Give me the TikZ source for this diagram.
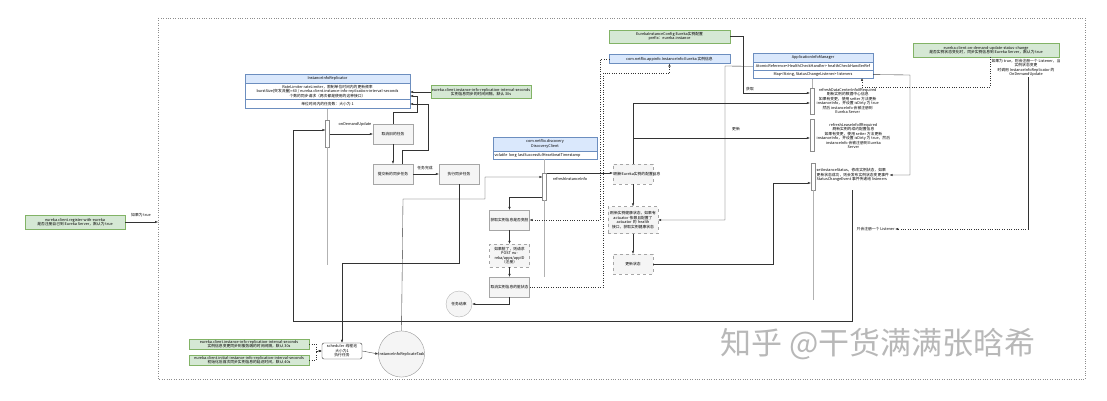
\documentclass[tikz,border=0pt]{standalone}
\usepackage{fontspec}
\setmainfont{Noto Sans CJK SC}
\usepackage{xcolor}
\usetikzlibrary{arrows.meta,positioning}
\definecolor{cfblue}{HTML}{DAE8FC}
\definecolor{cfblueline}{HTML}{6C8EBF}
\definecolor{cfgreen}{HTML}{D5E8D4}
\definecolor{cfgreenline}{HTML}{82B366}
\definecolor{cfgray}{HTML}{F5F5F5}
\definecolor{cfline}{HTML}{333333}
\tikzset{
  cftext/.style={font=\fontsize{3.8}{4.5}\selectfont, inner sep=0.5pt, align=center},
  cfnote/.style={cftext, draw=cfgreenline, fill=cfgreen, line width=0.3pt},
  cfhead/.style={cftext, draw=cfblueline, fill=cfblue, line width=0.3pt},
  cfrow/.style={cftext, draw=cfblueline, fill=white, line width=0.3pt},
  cfbox/.style={cftext, draw=black!35, fill=cfgray, line width=0.3pt,
    minimum width=40pt, minimum height=20pt, text width=38pt},
  cfdbox/.style={cfbox, dashed},
  cfbar/.style={draw=black!45, fill=white, line width=0.3pt, minimum width=4pt, inner sep=0pt},
  cfarrow/.style={-{Latex[length=3pt,width=2.4pt]}, line width=0.35pt, draw=cfline},
  cfdot/.style={cfarrow, dotted},
  cfplain/.style={line width=0.35pt, draw=cfline},
  cflife/.style={line width=0.3pt, draw=black!30}
}

\begin{document}
\begin{tikzpicture}[x=1pt,y=-1pt]
  \useasboundingbox (0,0) rectangle (1107,401);
  \draw[black!45, dotted, line width=0.4pt] (158,18) rectangle (1085,379);

  % left note
  \node[cfnote, minimum width=100pt, minimum height=14pt] (gReg) at (75,222) {eureka.client.register-with-eureka\\是否注册自己到 Eureka Server，默认为 true};
  \node[cftext] (lTrue) at (141,215) {如果为 true};
  \coordinate (cReg) at (158,222);
  \draw[cfarrow] (gReg.east) -- (cReg);

  % InstanceInfoReplicator
  \node[cfhead, minimum width=165pt, minimum height=9pt] (rH) at (327.5,78.5) {InstanceInfoReplicator};
  \node[cfrow, minimum width=165pt, minimum height=16pt, below=0pt of rH] (rB) {RateLimiter rateLimiter，限制单位时间内的更新频率\\burstSize(突发流量)=60 / eureka.client.instance-info-replication-interval-seconds\\个数的同步请求（两次都是使用的这种接口）};
  \node[cfrow, minimum width=165pt, minimum height=9pt, below=0pt of rB] (rR) {单位时间内的任务数：大小为 1};
  \node[cfnote, minimum width=98pt, minimum height=13pt] (gRate) at (481,92) {eureka.client.instance-info-replication-interval-seconds\\实例信息同步的时间间隔，默认 30s};
  \draw[cfarrow] (gRate.west) -- (gRate.west -| rB.east);

  \node[cfbar, minimum height=27pt] (bA) at (327.5,133.5) {};
  \draw[cflife] (rR.south -| bA) -- (bA.north);
  \draw[cflife] (bA.south) -- (327.5,265);
  \node[cfbox] (bCancel) at (393,134) {取消旧的任务};
  \node[cfbox] (bSubmit) at (393,174) {提交新的同步任务};
  \node[cfbox] (bTask) at (459,174) {执行同步任务};
  \node[cftext] (lDemand) at (355,124) {onDemandUpdate};
  \node[cftext] (lDone) at (425,168) {任务完成};
  \draw[cfarrow] (bA.east |- bCancel) -- (bCancel);
  \draw[cfarrow] (bCancel) -- (bSubmit);
  \draw[cfarrow] (bSubmit) -- (bTask);
  \draw[cfarrow] (bCancel.north) -- (393,112) -- (417,112) -- (417,96) -- (rB.east |- 0,96);
  \draw[cfarrow] (bSubmit.north -| 402,0) -- (402,150) -- (428,150) -- (428,104) -- (rB.east |- 0,104);

  % scheduler
  \node[cftext, draw=cfline, rounded corners=2pt, fill=white, minimum width=40pt, minimum height=16pt, text width=36pt] (sch) at (342,351) {scheduler 线程池\\大小为1\\执行任务};
  \node[cfnote, minimum width=120pt, minimum height=10pt] (gInt) at (249,344) {eureka.client.instance-info-replication-interval-seconds\\实例信息变更同步到服务端的时间间隔，默认 30s};
  \node[cfnote, minimum width=120pt, minimum height=10pt] (gInit) at (249,360) {eureka.client.initial-instance-info-replication-interval-seconds\\初始化后首次同步实例信息的延迟时间，默认 40s};
  \draw[cfdot] (gInt.east) -- (316,344) |- (sch.west);
  \draw[cfdot] (gInit.east) -- (316,360) |- (sch.west);
  \node[cftext, draw=black!40, fill=cfgray, circle, minimum size=45pt, inner sep=0pt] (cTask) at (401.5,354) {InstanceInfoReplicateTask};
  \draw[cfarrow] (sch.east) -- (cTask.west);
  \draw[cfarrow] (bTask.south) -- (459,263) -| (sch.north);

  % DiscoveryClient
  \node[cfhead, minimum width=104pt, minimum height=14pt] (dH) at (545,144) {com.netflix.discovery\\DiscoveryClient};
  \node[cfrow, minimum width=104pt, minimum height=8pt, below=0pt of dH, align=left, text width=101pt] (dR) {volatile long lastSuccessfulHeartbeatTimestamp};
  \node[cfbar, minimum height=27pt] (bB) at (544.5,186.5) {};
  \draw[cflife] (dR.south -| bB) -- (bB.north);
  \draw[cflife] (bB.south) -- (544.5,277);
  \draw[cfarrow] (cTask.north) -- (403,199) -- (485,199) -- (485,177) -- (bB.west |- 0,177);
  \node[cftext] (lRefresh) at (570,179) {refreshInstanceInfo};

  \node[cfbox] (pA) at (509.5,220) {获取实例信息是否变脏};
  \node[cfdbox, minimum height=23pt] (pB) at (509.5,255.5) {如果脏了，则请求 POST eureka/apps/appID （注册）};
  \node[cfbox] (pC) at (509.5,287) {取消实例信息的脏状态};
  \node[cftext, draw=black!30, fill=cfgray, circle, minimum size=26pt, inner sep=0pt] (cEnd) at (459,304) {任务结束};
  \draw[cfarrow] (bB.west |- 0,197) -| (pA.north);
  \draw[cfarrow] (pA) -- (pB);
  \draw[cfarrow] (pB) -- (pC);
  \draw[cfarrow] (pC.south) |- (cEnd.east);

  % instance config / info
  \node[cfnote, minimum width=121pt, minimum height=13pt] (gCfg) at (669.5,36.5) {EurekaInstanceConfig Eureka实例配置\\prefix：eureka.instance};
  \node[cfhead, minimum width=121pt, minimum height=9pt] (bInfo) at (669.5,59) {com.netflix.appinfo.InstanceInfo Eureka 实例信息};
  \draw[cfdot] (bInfo.west) -- (600,59) |- (pA.east);
  \draw[cfdot] (pC.east) -- (603,287) -- (603,73) -| (bInfo.south);

  % refresh chain
  \node[cfdbox] (rA) at (633,174) {刷新Eureka实例的配置信息};
  \node[cfdbox, minimum width=50pt, text width=48pt, minimum height=27pt] (rBx) at (633,220) {刷新实例健康状态，如果有 actuator 依赖且配置了 actuator 的 health 接口，获取实例健康状态};
  \node[cfdbox] (rC) at (633,264) {更新状态};
  \draw[cfarrow] (bB.east |- 0,173) -- (rA.west |- 0,173);
  \draw[cfarrow] (rA) -- (rBx);
  \draw[cfarrow] (rBx) -- (rC);

  % ApplicationInfoManager
  \node[cfhead, minimum width=120pt, minimum height=9pt] (mH) at (813,57.5) {ApplicationInfoManager};
  \node[cfrow, minimum width=120pt, minimum height=8pt, below=0pt of mH] (mA) {AtomicReference<HealthCheckHandler> healthCheckHandlerRef};
  \node[cfrow, minimum width=120pt, minimum height=8pt, below=0pt of mA] (mL) {Map<String, StatusChangeListener> listeners};
  \node[cfbar, minimum height=26pt] (bC) at (812,101) {};
  \node[cfbar, minimum height=32pt] (bD) at (812,135) {};
  \node[cfbar, minimum height=27pt] (bE) at (813,176.5) {};
  \draw[cflife] (mL.south -| bC) -- (bC.north);
  \draw[cflife] (bE.south) -- (813,300);
  \node[cftext, anchor=west] (tC) at (816,101) {refreshDataCenterInfoIfRequired\\刷新实例的数据中心信息\\如果有变更，使用 setter 方法更新\\instanceInfo，并设置 isDirty 为 true\\然后 instanceInfo 会被注册到\\Eureka Server};
  \node[cftext, anchor=west] (tD) at (816,136) {refreshLeaseInfoIfRequired\\刷新实例的续约配置信息\\如果有变更，使用 setter 方法更新\\instanceInfo，并设置 isDirty 为 true，然后\\instanceInfo 会被注册到 Eureka\\Server};
  \node[cftext, anchor=west, align=left] (tE) at (816,175) {setInstanceStatus，修改实例状态，如果\\更新状态成功，则会发布实例状态变更事件\\StatusChangeEvent 事件传递给 listeners};
  \node[cftext] (lGet) at (750,89) {获取};
  \node[cftext] (lSet) at (736,129) {更新};
  \draw[cfarrow] (gCfg.east) -- (743,36.5) |- (bC.west |- 0,93);
  \draw[cfarrow] (rA.north) -- (633,103) -- (bC.west |- 0,103);
  \draw[cfarrow] (633,138) -- (bD.west |- 0,138);
  \draw[cfarrow] (mA.west) -- (725,66) |- (rBx.east);
  \draw[cfarrow] (rC.east) -- (773,264) |- (bE.west |- 0,183);

  % on-demand listener
  \node[cfnote, minimum width=146pt, minimum height=14pt] (gDemand) at (986,50) {eureka.client.on-demand-update-status-change\\是否实例状态变化时，同步实例信息到 Eureka Server，默认为 true};
  \node[cftext] (tDemand) at (1026,68) {如果为 true，则会注册一个 Listener，当\\实例状态变更\\时调用 InstanceInfoReplicator 的\\OnDemandUpdate};
  \draw[cfdot] (990,57) -- (990,87) -| (862,78);
  \draw[cfarrow] (mL.east) -- (910,75) |- (tE.east);
  \node[cftext, anchor=west] (lOnce) at (856,229) {只会注册一个 Listener};
  \draw[cfplain] (tDemand.south -| 1028,0) -- (1028,229);
  \draw[cfdot] (1028,229) -- (lOnce.east);
  \draw[cfarrow] (852,190) -- (852,321) -- (293,321) -- (293,130) -- (bA.west |- 0,130);

  % watermark
  \node[font=\fontsize{31}{31}\selectfont, text=black!28] (wm) at (878,344) {知乎 @干货满满张晗希};
\end{tikzpicture}
\end{document}
